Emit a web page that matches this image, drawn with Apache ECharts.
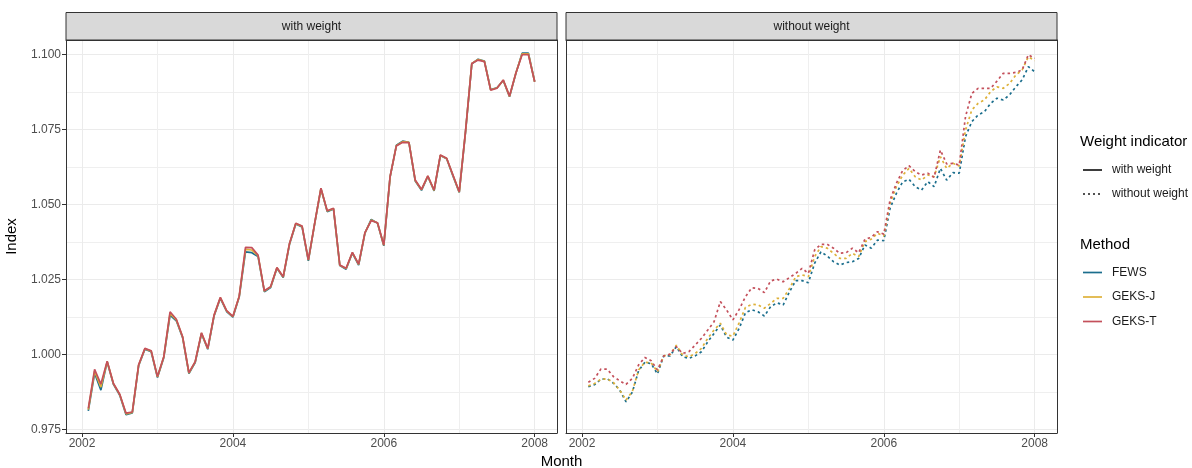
<!DOCTYPE html>
<html>
<head>
<meta charset="utf-8">
<script src="https://cdn.jsdelivr.net/npm/echarts@6/dist/echarts.min.js"></script>
<style>
html,body{margin:0;padding:0;background:#fff;}
#chart{width:1192px;height:468px;}
</style>
</head>
<body>
<div id="chart"></div>
<script>
// ---- categories (months) ----
const months = [
  '2002-02','2002-03','2002-04','2002-05','2002-06','2002-07','2002-08','2002-09','2002-10','2002-11','2002-12','2003-01',
  '2003-02','2003-03','2003-04','2003-05','2003-06','2003-07','2003-08','2003-09','2003-10','2003-11','2003-12','2004-01',
  '2004-02','2004-03','2004-04','2004-05','2004-06','2004-07','2004-08','2004-09','2004-10','2004-11','2004-12','2005-01',
  '2005-02','2005-03','2005-04','2005-05','2005-06','2005-07','2005-08','2005-09','2005-10','2005-11','2005-12','2006-01',
  '2006-02','2006-03','2006-04','2006-05','2006-06','2006-07','2006-08','2006-09','2006-10','2006-11','2006-12','2007-01',
  '2007-02','2007-03','2007-04','2007-05','2007-06','2007-07','2007-08','2007-09','2007-10','2007-11','2007-12','2008-01'
];

// ---- panel "with weight" ----
const fewsWith = [
  0.9813,0.9938,0.9882,0.9976,0.9901,0.9865,0.9800,0.9806,0.9963,1.0018,1.0010,0.9924,
  0.9990,1.0132,1.0113,1.0057,0.9937,0.9974,1.0070,1.0018,1.0129,1.0188,1.0144,1.0125,
  1.0192,1.0343,1.0340,1.0327,1.0210,1.0224,1.0288,1.0257,1.0368,1.0436,1.0426,1.0313,
  1.0436,1.0553,1.0477,1.0486,1.0297,1.0285,1.0339,1.0299,1.0405,1.0451,1.0438,1.0363,
  1.0592,1.0698,1.0712,1.0708,1.0579,1.0548,1.0594,1.0546,1.0664,1.0653,1.0596,1.0541,
  1.0742,1.0970,1.0985,1.0979,1.0884,1.0890,1.0914,1.0860,1.0937,1.1005,1.1005,1.0910
];
const geksJWith = [
  0.9817,0.9945,0.9892,0.9977,0.9903,0.9867,0.9803,0.9808,0.9965,1.0020,1.0012,0.9926,
  0.9992,1.0138,1.0116,1.0059,0.9939,0.9976,1.0072,1.0020,1.0131,1.0190,1.0146,1.0127,
  1.0194,1.0351,1.0349,1.0330,1.0212,1.0226,1.0290,1.0259,1.0370,1.0437,1.0428,1.0315,
  1.0437,1.0554,1.0479,1.0487,1.0298,1.0287,1.0340,1.0301,1.0406,1.0449,1.0439,1.0365,
  1.0593,1.0697,1.0710,1.0708,1.0581,1.0550,1.0595,1.0548,1.0665,1.0654,1.0598,1.0542,
  1.0744,1.0971,1.0984,1.0978,1.0883,1.0889,1.0915,1.0861,1.0938,1.1003,1.1003,1.0910
];
const geksTWith = [
  0.9821,0.9951,0.9902,0.9978,0.9904,0.9868,0.9805,0.9809,0.9966,1.0021,1.0013,0.9927,
  0.9993,1.0143,1.0118,1.0060,0.9940,0.9977,1.0073,1.0021,1.0132,1.0191,1.0147,1.0128,
  1.0195,1.0358,1.0357,1.0332,1.0213,1.0227,1.0291,1.0260,1.0371,1.0438,1.0429,1.0316,
  1.0438,1.0555,1.0480,1.0488,1.0299,1.0288,1.0341,1.0302,1.0407,1.0447,1.0440,1.0366,
  1.0594,1.0696,1.0708,1.0707,1.0582,1.0551,1.0596,1.0549,1.0666,1.0655,1.0599,1.0543,
  1.0745,1.0971,1.0982,1.0977,1.0882,1.0888,1.0916,1.0862,1.0938,1.1000,1.1000,1.0910
];

// ---- panel "without weight" ----
const fewsWithout = [
  0.9893,0.9900,0.9918,0.9920,0.9905,0.9882,0.9843,0.9875,0.9947,0.9975,0.9970,0.9936,
  0.9996,0.9996,1.0027,0.9993,0.9988,0.9996,1.0010,1.0043,1.0071,1.0099,1.0058,1.0049,
  1.0088,1.0140,1.0150,1.0143,1.0129,1.0160,1.0173,1.0166,1.0210,1.0247,1.0247,1.0240,
  1.0305,1.0343,1.0329,1.0310,1.0299,1.0307,1.0310,1.0321,1.0366,1.0355,1.0382,1.0380,
  1.0488,1.0538,1.0576,1.0585,1.0560,1.0549,1.0577,1.0560,1.0621,1.0582,1.0607,1.0605,
  1.0727,1.0777,1.0799,1.0810,1.0838,1.0855,1.0849,1.0866,1.0893,1.0916,1.0960,1.0943
];
const geksJWithout = [
  0.9896,0.9904,0.9918,0.9920,0.9907,0.9882,0.9849,0.9877,0.9949,0.9975,0.9973,0.9943,
  0.9996,1.0000,1.0032,0.9999,0.9993,1.0004,1.0021,1.0055,1.0082,1.0105,1.0066,1.0062,
  1.0107,1.0158,1.0168,1.0166,1.0155,1.0171,1.0188,1.0188,1.0221,1.0260,1.0266,1.0260,
  1.0327,1.0360,1.0355,1.0338,1.0321,1.0321,1.0338,1.0327,1.0377,1.0385,1.0405,1.0396,
  1.0505,1.0560,1.0598,1.0621,1.0593,1.0582,1.0599,1.0593,1.0660,1.0621,1.0638,1.0629,
  1.0749,1.0816,1.0838,1.0849,1.0877,1.0893,1.0888,1.0904,1.0932,1.0949,1.0993,1.0980
];
const geksTWithout = [
  0.9908,0.9921,0.9952,0.9952,0.9927,0.9913,0.9901,0.9921,0.9966,0.9991,0.9980,0.9949,
  0.9996,1.0002,1.0027,1.0004,1.0010,1.0032,1.0055,1.0082,1.0110,1.0177,1.0149,1.0116,
  1.0151,1.0193,1.0223,1.0221,1.0207,1.0246,1.0252,1.0243,1.0257,1.0271,1.0288,1.0271,
  1.0349,1.0368,1.0368,1.0355,1.0338,1.0340,1.0355,1.0340,1.0385,1.0391,1.0410,1.0402,
  1.0516,1.0571,1.0614,1.0630,1.0610,1.0599,1.0605,1.0591,1.0682,1.0636,1.0638,1.0632,
  1.0794,1.0871,1.0888,1.0888,1.0888,1.0912,1.0938,1.0938,1.0941,1.0949,1.1000,1.0988
];

// ---- ticks ----
const xMajorTicks = [2002, 2004, 2006, 2008];
const xMinorTicks = [2003, 2005, 2007];
const yMajorTicks = [0.975, 1.000, 1.025, 1.050, 1.075, 1.100];
const yMinorTicks = [0.9875, 1.0125, 1.0375, 1.0625, 1.0875];

const panelNames = ['with weight', 'without weight'];
const methodNames = ['FEWS', 'GEKS-J', 'GEKS-T'];
const methodColors = ['#1b6e8d', '#deb13a', '#c4505b'];
const weightNames = ['with weight', 'without weight'];

// ---- build ----
function monthToX(m) {
  const [y, mo] = m.split('-').map(Number);
  return y + (mo - 1) / 12;
}
function pairs(vals) { return vals.map((v, i) => [monthToX(months[i]), v]); }

const X_MIN = 2001.7875, X_MAX = 2008.2958;
const Y_MIN = 0.9739, Y_MAX = 1.1049;
const FONT = 'Liberation Sans, Arial, Helvetica, sans-serif';
const BORDER = '#333333';
const GRID_MAJOR = '#ebebeb';
const GRID_MINOR = '#efefef';
const SOLID_W = 1.7;
const DOT_PATTERN = [2.5, 3];

const grids = [
  { left: 66, top: 40, width: 491, height: 393 },
  { left: 566, top: 40, width: 491, height: 393 }
];

const xAxes = [], yAxes = [];
[0, 1].forEach(g => {
  xAxes.push({
    type: 'value', gridIndex: g, min: X_MIN, max: X_MAX, position: 'bottom',
    axisLine: { show: true, onZero: false, lineStyle: { color: BORDER, width: 1 } },
    axisTick: { show: true, customValues: xMajorTicks, length: 4, lineStyle: { color: BORDER, width: 1 } },
    axisLabel: { show: true, customValues: xMajorTicks, formatter: v => String(Math.round(v)),
      color: '#4d4d4d', fontSize: 12, margin: 5, fontFamily: FONT },
    splitLine: { show: true, lineStyle: { color: GRID_MAJOR, width: 1 } }
  });
});
[0, 1].forEach(g => {
  xAxes.push({
    type: 'value', gridIndex: g, min: X_MIN, max: X_MAX, position: 'top',
    axisLine: { show: true, onZero: false, lineStyle: { color: BORDER, width: 1 } },
    axisTick: { show: false, customValues: xMinorTicks },
    axisLabel: { show: false, customValues: xMinorTicks },
    splitLine: { show: true, lineStyle: { color: GRID_MINOR, width: 1 } }
  });
});
[0, 1].forEach(g => {
  yAxes.push({
    type: 'value', gridIndex: g, min: Y_MIN, max: Y_MAX, position: 'left',
    name: g === 0 ? 'Index' : '', nameLocation: 'middle', nameGap: 47, nameRotate: 90,
    nameTextStyle: { fontSize: 15, color: '#000', fontFamily: FONT },
    axisLine: { show: true, onZero: false, lineStyle: { color: BORDER, width: 1 } },
    axisTick: { show: g === 0, customValues: yMajorTicks, length: 4, lineStyle: { color: BORDER, width: 1 } },
    axisLabel: { show: g === 0, customValues: yMajorTicks, formatter: v => v.toFixed(3),
      color: '#4d4d4d', fontSize: 12, margin: 5, fontFamily: FONT },
    splitLine: { show: true, lineStyle: { color: GRID_MAJOR, width: 1 } }
  });
});
[0, 1].forEach(g => {
  yAxes.push({
    type: 'value', gridIndex: g, min: Y_MIN, max: Y_MAX, position: 'right',
    axisLine: { show: true, onZero: false, lineStyle: { color: BORDER, width: 1 } },
    axisTick: { show: false, customValues: yMinorTicks },
    axisLabel: { show: false, customValues: yMinorTicks },
    splitLine: { show: true, lineStyle: { color: GRID_MINOR, width: 1 } }
  });
});

const withSets = [fewsWith, geksJWith, geksTWith];
const withoutSets = [fewsWithout, geksJWithout, geksTWithout];
const series = [];
withSets.forEach((vals, i) => {
  series.push({
    name: methodNames[i], type: 'line', xAxisIndex: 0, yAxisIndex: 0,
    data: pairs(vals), showSymbol: false, symbol: 'none', z: 3,
    color: methodColors[i],
    lineStyle: { color: methodColors[i], width: SOLID_W, type: 'solid' }
  });
});
withoutSets.forEach((vals, i) => {
  series.push({
    name: methodNames[i] + ' ', type: 'line', xAxisIndex: 1, yAxisIndex: 1,
    data: pairs(vals), showSymbol: false, symbol: 'none', z: 3,
    color: methodColors[i],
    lineStyle: { color: methodColors[i], width: SOLID_W, type: DOT_PATTERN, cap: 'butt' }
  });
});

// ---- legend (drawn as graphic keys + text) ----
const KEY_X0 = 1083, KEY_X1 = 1102, LABEL_X = 1112;
const weightKeyY = [170, 194];
const methodKeyY = [272.5, 297, 321.5];

const graphics = [];
grids.forEach((g, i) => {
  graphics.push({
    type: 'rect', z: 10,
    shape: { x: g.left, y: 12.5, width: g.width, height: 27.5 },
    style: { fill: '#d9d9d9', stroke: BORDER, lineWidth: 1 }
  });
  graphics.push({
    type: 'text', z: 11, x: g.left + g.width / 2, y: 26.5,
    style: { text: panelNames[i], fill: '#1a1a1a', font: '12px ' + FONT,
      textAlign: 'center', textVerticalAlign: 'middle' }
  });
});
graphics.push({
  type: 'text', z: 11, x: 561.5, y: 461.5,
  style: { text: 'Month', fill: '#000', font: '15px ' + FONT, textAlign: 'center', textVerticalAlign: 'middle' }
});
graphics.push({
  type: 'text', z: 11, x: 1080, y: 141.5,
  style: { text: 'Weight indicator', fill: '#000', font: '15px ' + FONT, textAlign: 'left', textVerticalAlign: 'middle' }
});
graphics.push({
  type: 'text', z: 11, x: 1080, y: 245,
  style: { text: 'Method', fill: '#000', font: '15px ' + FONT, textAlign: 'left', textVerticalAlign: 'middle' }
});
weightNames.forEach((nm, i) => {
  graphics.push({
    type: 'line', z: 11,
    shape: { x1: KEY_X0, y1: weightKeyY[i], x2: KEY_X1, y2: weightKeyY[i] },
    style: { stroke: '#1a1a1a', lineWidth: i === 0 ? SOLID_W : 1.6, lineDash: i === 0 ? null : [2, 3] }
  });
  graphics.push({
    type: 'text', z: 11, x: LABEL_X, y: weightKeyY[i],
    style: { text: nm, fill: '#1a1a1a', font: '12px ' + FONT, textAlign: 'left', textVerticalAlign: 'middle' }
  });
});
methodNames.forEach((nm, i) => {
  graphics.push({
    type: 'line', z: 11,
    shape: { x1: KEY_X0, y1: methodKeyY[i], x2: KEY_X1, y2: methodKeyY[i] },
    style: { stroke: methodColors[i], lineWidth: SOLID_W }
  });
  graphics.push({
    type: 'text', z: 11, x: LABEL_X, y: methodKeyY[i],
    style: { text: nm, fill: '#1a1a1a', font: '12px ' + FONT, textAlign: 'left', textVerticalAlign: 'middle' }
  });
});

const chart = echarts.init(document.getElementById('chart'), null, { renderer: 'canvas' });
chart.setOption({
  animation: false,
  backgroundColor: '#ffffff',
  textStyle: { fontFamily: FONT },
  grid: grids,
  xAxis: xAxes,
  yAxis: yAxes,
  graphic: graphics,
  series: series
});
</script>
</body>
</html>
